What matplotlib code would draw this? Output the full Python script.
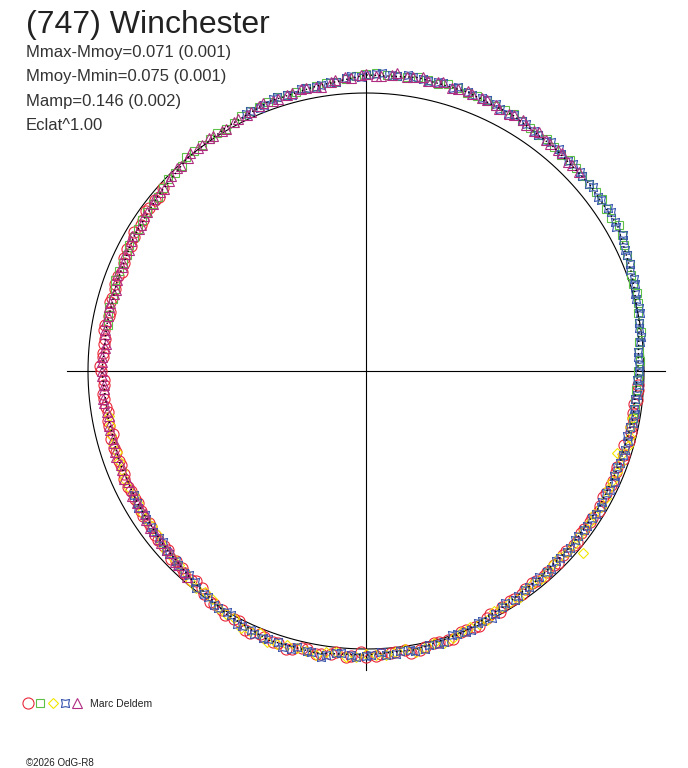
import numpy as np
import matplotlib
matplotlib.use("Agg")
import matplotlib.pyplot as plt
from matplotlib.path import Path
from matplotlib.legend_handler import HandlerTuple

# ---------------- data (rotation phase as polar angle in degrees, relative flux as radius) ----------------
title = "(747) Winchester"
stats = ["Mmax-Mmoy=0.071 (0.001)", "Mmoy-Mmin=0.075 (0.001)", "Mamp=0.146 (0.002)", "Eclat^1.00"]
observer = "Marc Deldem"
credit = "\u00a92026 OdG-R8"

mean_angle = [0, 10, 20, 30, 40, 50, 60, 70, 80, 90, 100, 110, 120, 130, 140, 150, 160, 170,
              180, 190, 200, 210, 220, 230, 240, 250, 260, 270, 280, 290, 300, 310, 320, 330, 340, 350, 360]
mean_flux = [0.978, 0.998, 1.018, 1.045, 1.048, 1.051, 1.061, 1.068, 1.072, 1.065, 1.040, 1.030, 1.010,
             1.000, 0.978, 0.965, 0.952, 0.947, 0.950, 0.943, 0.946, 0.950, 0.960, 0.978, 1.008, 1.030,
             1.030, 1.022, 1.018, 1.004, 0.982, 0.972, 0.970, 0.971, 0.972, 0.975, 0.978]

# observing session A
red_angle = [138, 141, 144, 147, 150, 153, 156, 159, 162, 165, 168, 171, 174, 177, 180, 183, 186, 189,
             192, 195, 198, 201, 204, 207, 210, 213, 216, 219, 222, 225, 228, 231, 234, 237, 240, 243,
             246, 249, 252, 255, 258, 261, 264, 267, 270, 273, 276, 279, 282, 285, 288, 291, 294, 297,
             300, 303, 306, 309, 312, 315, 318, 321, 324, 327, 330, 333, 336, 339, 342, 345, 348, 351,
             354, 357]
red_flux = [0.985, 0.975, 0.978, 0.965, 0.965, 0.963, 0.952, 0.954, 0.950, 0.954, 0.945, 0.953, 0.946,
            0.949, 0.953, 0.944, 0.947, 0.938, 0.946, 0.949, 0.944, 0.943, 0.953, 0.949, 0.948, 0.956,
            0.954, 0.964, 0.960, 0.969, 0.977, 0.973, 0.992, 1.001, 1.014, 1.010, 1.030, 1.025, 1.030,
            1.035, 1.024, 1.031, 1.018, 1.027, 1.028, 1.019, 1.015, 1.026, 1.015, 1.008, 1.012, 0.999,
            1.003, 0.983, 0.980, 0.979, 0.970, 0.974, 0.971, 0.975, 0.967, 0.976, 0.968, 0.971, 0.974,
            0.967, 0.973, 0.966, 0.975, 0.978, 0.974, 0.972, 0.981, 0.978]

green_angle = [-10, -6, -2, 2, 6, 10, 14, 18, 22, 26, 30, 34, 38, 42, 46, 50, 54, 58, 62, 66, 70, 74,
               78, 82, 86, 90, 94, 98, 102, 106, 110, 114, 118, 122, 126, 130, 134, 138, 142, 146, 150,
               154, 158, 162, 166, 170]
green_flux = [0.977, 0.973, 0.978, 0.986, 0.988, 0.998, 1.009, 1.010, 1.025, 1.033, 1.050, 1.043, 1.048,
              1.047, 1.054, 1.051, 1.050, 1.062, 1.062, 1.068, 1.065, 1.074, 1.071, 1.069, 1.069, 1.067,
              1.052, 1.046, 1.042, 1.032, 1.030, 1.025, 1.010, 1.010, 1.003, 1.005, 0.988, 0.983, 0.973,
              0.974, 0.965, 0.955, 0.958, 0.950, 0.951, 0.944]

yellow_angle = [190, 194, 198, 202, 206, 210, 214, 218, 222, 226, 230, 234, 238, 242, 246, 250, 254,
                258, 262, 266, 270, 274, 278, 282, 286, 290, 294, 298, 302, 306, 310, 314, 318, 320,
                322, 326, 330, 334, 338, 342, 342, 346, 350]
yellow_flux = [0.940, 0.946, 0.940, 0.948, 0.952, 0.948, 0.954, 0.952, 0.967, 0.970, 0.986, 0.984, 1.005,
               1.008, 1.023, 1.039, 1.027, 1.030, 1.022, 1.030, 1.017, 1.024, 1.011, 1.017, 1.016, 1.001,
               0.995, 0.977, 0.980, 0.973, 0.977, 0.967, 0.972, 1.020, 0.967, 0.971, 0.977, 0.969, 0.972,
               0.969, 0.949, 0.977, 0.972]

blue_angle = [-152, -149, -146, -143, -140, -137, -134, -131, -128, -125, -122, -119, -116, -113, -110,
              -107, -104, -101, -98, -95, -92, -89, -86, -83, -80, -77, -74, -71, -68, -65, -62, -59,
              -56, -53, -50, -47, -44, -41, -38, -35, -32, -29, -26, -23, -20, -17, -14, -11, -8, -5,
              -2, 1, 4, 7, 10, 13, 16, 19, 22, 25, 28, 31, 34, 37, 40, 43, 46, 49, 52, 55, 58, 61, 64,
              67, 70, 73, 76, 79, 82, 85, 88, 91, 94, 97, 100, 103, 106, 109, 112, 115]
blue_flux = [0.947, 0.955, 0.953, 0.960, 0.955, 0.967, 0.971, 0.971, 0.992, 0.991, 1.005, 1.004, 1.019,
             1.028, 1.027, 1.039, 1.025, 1.030, 1.031, 1.018, 1.030, 1.020, 1.023, 1.014, 1.023, 1.011,
             1.015, 1.002, 1.006, 0.991, 0.991, 0.974, 0.978, 0.974, 0.969, 0.976, 0.970, 0.972, 0.966,
             0.971, 0.974, 0.969, 0.977, 0.969, 0.972, 0.975, 0.969, 0.979, 0.974, 0.977, 0.974, 0.983,
             0.982, 0.996, 0.997, 1.007, 1.006, 1.018, 1.023, 1.028, 1.045, 1.044, 1.048, 1.043, 1.049,
             1.052, 1.048, 1.057, 1.050, 1.056, 1.061, 1.057, 1.068, 1.065, 1.069, 1.066, 1.073, 1.070,
             1.075, 1.068, 1.069, 1.058, 1.057, 1.048, 1.037, 1.042, 1.033, 1.033, 1.022, 1.021]

magenta_angle = [43, 46, 49, 52, 55, 58, 61, 64, 67, 70, 73, 76, 79, 82, 85, 88, 91, 94, 97, 100, 103,
                 106, 109, 112, 115, 118, 121, 124, 127, 130, 133, 136, 139, 142, 145, 148, 151, 154,
                 157, 160, 163, 166, 169, 172, 175, 178, 181, 184, 187, 190, 193, 196, 199, 202, 205,
                 208, 211, 214, 217, 220, 223, 226, 229]
magenta_flux = [1.050, 1.047, 1.055, 1.053, 1.054, 1.064, 1.058, 1.066, 1.065, 1.071, 1.064, 1.071, 1.076,
                1.069, 1.069, 1.063, 1.065, 1.060, 1.047, 1.036, 1.040, 1.034, 1.029, 1.030, 1.017, 1.015,
                1.006, 1.010, 1.003, 0.998, 0.998, 0.983, 0.982, 0.974, 0.974, 0.963, 0.965, 0.964, 0.954,
                0.952, 0.947, 0.951, 0.952, 0.947, 0.944, 0.952, 0.949, 0.945, 0.949, 0.940, 0.945, 0.942,
                0.950, 0.947, 0.946, 0.954, 0.947, 0.956, 0.956, 0.963, 0.960, 0.972, 0.980]

# observing session B
red_angle_b = [140, 143, 146, 149, 152, 155, 158, 161, 164, 167, 170, 173, 176, 179, 182, 185, 188, 191,
               194, 197, 200, 203, 206, 209, 212, 215, 218, 221, 224, 227, 230, 233, 236, 239, 242, 245,
               248, 251, 254, 257, 260, 263, 266, 269, 272, 275, 278, 281, 284, 287, 290, 293, 296, 299,
               302, 305, 308, 311, 314, 317, 320, 323, 326, 329, 332, 335, 338, 341, 344, 347, 350, 353,
               356]
red_flux_b = [0.974, 0.977, 0.969, 0.972, 0.959, 0.960, 0.948, 0.956, 0.950, 0.946, 0.952, 0.945, 0.950,
              0.957, 0.944, 0.949, 0.943, 0.947, 0.937, 0.948, 0.946, 0.944, 0.953, 0.948, 0.953, 0.951,
              0.961, 0.961, 0.973, 0.970, 0.981, 0.978, 1.002, 1.005, 1.009, 1.027, 1.021, 1.032, 1.041,
              1.022, 1.033, 1.026, 1.031, 1.012, 1.026, 1.020, 1.014, 1.024, 1.009, 1.010, 0.998, 1.002,
              0.989, 0.993, 0.975, 0.979, 0.968, 0.976, 0.971, 0.968, 0.975, 0.967, 0.972, 0.978, 0.966,
              0.973, 0.971, 0.976, 0.966, 0.977, 0.975, 0.973, 0.982]

blue_angle_b = [-150, -147, -144, -141, -138, -135, -132, -129, -126, -123, -120, -117, -114, -111, -108,
                -105, -102, -99, -96, -93, -90, -87, -84, -81, -78, -75, -72, -69, -66, -63, -60, -57,
                -54, -51, -48, -45, -42, -39, -36, -33, -30, -27, -24, -21, -18, -15, -12, -9, -6, -3,
                0, 3, 6, 9, 12, 15, 18, 21, 24, 27, 30, 33, 36, 39, 42, 45, 48, 51, 54, 57, 60, 63, 66,
                69, 72, 75, 78, 81, 84, 87, 90, 93, 96, 99, 102, 105, 108, 111, 114]
blue_flux_b = [0.953, 0.948, 0.957, 0.957, 0.970, 0.968, 0.980, 0.975, 0.990, 1.002, 0.999, 1.023, 1.018,
               1.030, 1.025, 1.036, 1.028, 1.040, 1.021, 1.024, 1.025, 1.013, 1.025, 1.015, 1.024, 1.016,
               0.999, 1.004, 0.992, 0.998, 0.980, 0.983, 0.972, 0.973, 0.974, 0.965, 0.975, 0.968, 0.971,
               0.968, 0.975, 0.970, 0.979, 0.968, 0.973, 0.976, 0.970, 0.978, 0.974, 0.983, 0.981, 0.979,
               0.991, 0.994, 1.008, 1.007, 1.018, 1.017, 1.029, 1.039, 1.039, 1.051, 1.044, 1.049, 1.046,
               1.054, 1.049, 1.059, 1.051, 1.058, 1.063, 1.058, 1.068, 1.065, 1.075, 1.073, 1.066, 1.072,
               1.068, 1.073, 1.064, 1.062, 1.046, 1.043, 1.040, 1.029, 1.037, 1.026, 1.023]

magenta_angle_b = [45, 48, 51, 54, 57, 60, 63, 66, 69, 72, 75, 78, 81, 84, 87, 90, 93, 96, 99, 102, 105,
                   108, 111, 114, 117, 120, 123, 126, 129, 132, 135, 138, 141, 144, 147, 150, 153, 156,
                   159, 162, 165, 168, 171, 174, 177, 180, 183, 186, 189, 192, 195, 198, 201, 204, 207,
                   210, 213, 216, 219, 222, 225, 228]
magenta_flux_b = [1.046, 1.053, 1.051, 1.061, 1.055, 1.063, 1.057, 1.069, 1.067, 1.067, 1.075, 1.068,
                  1.072, 1.077, 1.062, 1.067, 1.057, 1.054, 1.036, 1.041, 1.035, 1.029, 1.033, 1.020,
                  1.017, 1.006, 1.010, 1.003, 1.007, 0.993, 0.991, 0.976, 0.981, 0.973, 0.967, 0.970,
                  0.958, 0.958, 0.960, 0.946, 0.952, 0.947, 0.951, 0.941, 0.952, 0.950, 0.945, 0.951,
                  0.942, 0.945, 0.941, 0.948, 0.945, 0.954, 0.946, 0.952, 0.947, 0.960, 0.959, 0.962,
                  0.974, 0.971]

green_angle_b = [-8, -4, 0, 4, 8, 12, 16, 20, 24, 28, 32, 36, 40, 44, 48, 52, 56, 60, 64, 68, 72, 76, 80,
                 84, 88, 92, 96, 100, 104, 108, 112, 116, 120, 124, 128, 132, 136, 140, 144, 148, 152,
                 156, 160, 164, 168]
green_flux_b = [0.978, 0.972, 0.979, 0.984, 1.000, 1.001, 1.014, 1.014, 1.029, 1.042, 1.040, 1.051, 1.046,
                1.050, 1.047, 1.057, 1.056, 1.068, 1.060, 1.067, 1.071, 1.065, 1.075, 1.068, 1.072, 1.063,
                1.045, 1.041, 1.034, 1.038, 1.025, 1.022, 1.006, 1.006, 1.004, 0.990, 0.992, 0.976, 0.974,
                0.965, 0.966, 0.956, 0.959, 0.946, 0.948]

yellow_angle_b = [192, 196, 200, 204, 208, 212, 216, 220, 224, 228, 232, 236, 240, 244, 248, 252, 256,
                  260, 264, 268, 272, 276, 280, 284, 288, 292, 296, 300, 304, 308, 312, 316, 320, 324,
                  328, 332, 336, 340, 344, 348]
yellow_flux_b = [0.940, 0.948, 0.945, 0.954, 0.946, 0.954, 0.950, 0.964, 0.967, 0.971, 0.992, 0.991, 1.010,
                 1.028, 1.018, 1.033, 1.028, 1.036, 1.016, 1.029, 1.021, 1.015, 1.026, 1.009, 1.009, 0.994,
                 0.996, 0.980, 0.984, 0.971, 0.974, 0.965, 0.974, 0.970, 0.969, 0.976, 0.969, 0.973, 0.980,
                 0.970]

# ---------------- figure ----------------
W, H = 688, 768
fig = plt.figure(figsize=(W / 100, H / 100), dpi=100)
fig.patch.set_facecolor("white")
ax = fig.add_axes([0, 0, 1, 1])
cx, cy, scale = 366.0, 397.0, 278.0          # centre (px from left / bottom), px per unit flux
ax.set_xlim(-cx / scale, (W - cx) / scale)
ax.set_ylim(-cy / scale, (H - cy) / scale)
ax.axis("off")

FONT = "Liberation Sans"


def polar_xy(angle, flux):
    a = np.deg2rad(np.asarray(angle, dtype=float))
    r = np.asarray(flux, dtype=float)
    return r * np.cos(a), r * np.sin(a)


# axes cross and mean-flux reference circle
L = 1.0755
ax.plot([-L, L], [0, 0], color="black", lw=0.8, zorder=1)
ax.plot([0, 0], [-L, L], color="black", lw=0.8, zorder=1)
t = np.linspace(0, 2 * np.pi, 721)
ax.plot(np.cos(t), np.sin(t), color="black", lw=0.8, zorder=1)

# 4-point star marker (points on diagonals)
star_verts = []
for k in range(4):
    a_out = np.deg2rad(45 + 90 * k)
    a_in = np.deg2rad(90 + 90 * k)
    star_verts.append((np.cos(a_out), np.sin(a_out)))
    star_verts.append((0.55 * np.cos(a_in), 0.55 * np.sin(a_in)))
star_verts.append(star_verts[0])
star = Path(star_verts, closed=True)

lw = 0.8
series = [
    (red_angle + red_angle_b, red_flux + red_flux_b, "o", 8.0, "#e8283a"),
    (green_angle + green_angle_b, green_flux + green_flux_b, "s", 6.0, "#5cbf46"),
    (yellow_angle + yellow_angle_b, yellow_flux + yellow_flux_b, "D", 5.2, "#f2e600"),
    (blue_angle + blue_angle_b, blue_flux + blue_flux_b, star, 5.8, "#3552ad"),
    (magenta_angle + magenta_angle_b, magenta_flux + magenta_flux_b, "^", 6.5, "#b02c80"),
]
handles = []
for i, (ang, flx, mk, ms, col) in enumerate(series):
    x, y = polar_xy(ang, flx)
    h, = ax.plot(x, y, linestyle="none", marker=mk, markersize=ms, markerfacecolor="none",
                 markeredgecolor=col, markeredgewidth=lw, zorder=3 + i)
    handles.append(h)

# dotted mean light curve
mx, my = polar_xy(mean_angle, mean_flux)
ax.plot(mx, my, color="black", lw=1.0, linestyle=(0, (1, 2)), zorder=10)

# texts
fig.text(26 / W, 1 - 33 / H, title, fontsize=23, family=FONT, color="#222222", va="baseline", ha="left")
for k, s in enumerate(stats):
    fig.text(26 / W, 1 - (57 + 24.5 * k) / H, s, fontsize=12, family=FONT, color="#333333",
             va="baseline", ha="left")
fig.text(26 / W, 1 - 766 / H, credit, fontsize=7, family=FONT, color="#222222", va="baseline", ha="left")

leg = fig.legend([tuple(handles)], [observer], handler_map={tuple: HandlerTuple(ndivide=None, pad=0.24)},
                 loc="center left", bbox_to_anchor=(23 / W, 1 - 704 / H), frameon=False, numpoints=1,
                 handlelength=5.7, handletextpad=0.7, borderpad=0, borderaxespad=0,
                 prop={"family": FONT, "size": 7.5})
for txt in leg.get_texts():
    txt.set_color("#222222")

fig.savefig("out.png", dpi=100, facecolor="white")
